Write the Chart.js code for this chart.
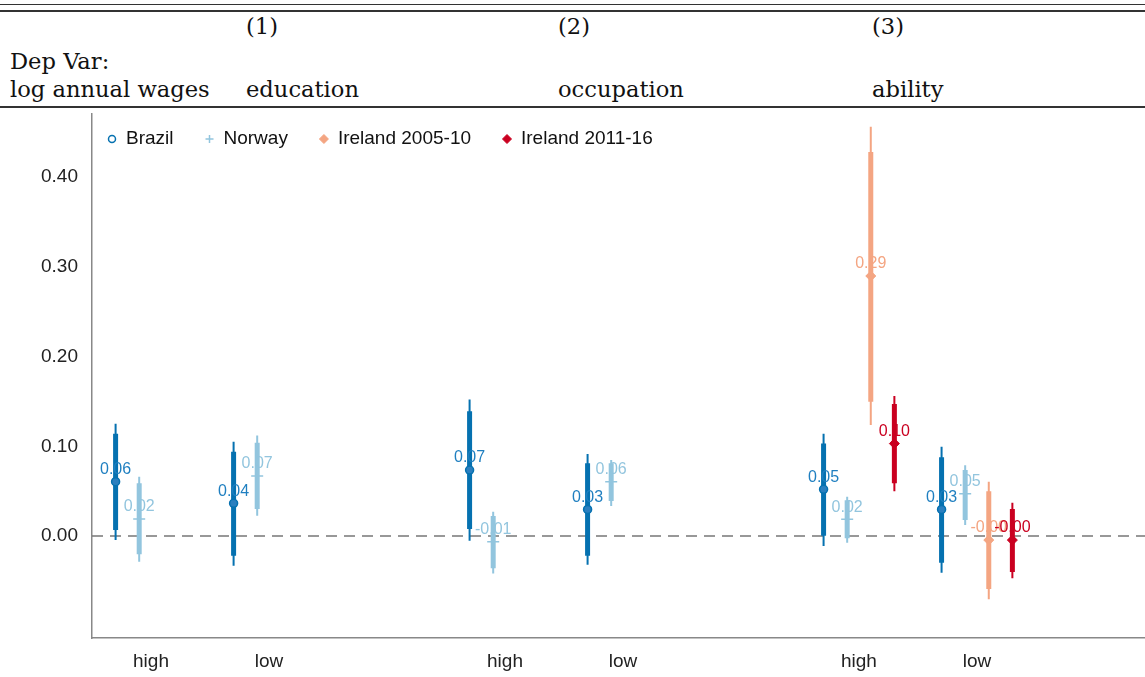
<!DOCTYPE html>
<html>
<head>
<meta charset="utf-8">
<script src="https://cdn.jsdelivr.net/npm/chart.js@4.4.0/dist/chart.umd.min.js"></script>
<style>
  html, body { margin: 0; padding: 0; background: #fff; }
  body { width: 1145px; height: 677px; position: relative; overflow: hidden; }
  .rule { position: absolute; left: 0; width: 1145px; background: #333; }
  .hd { position: absolute; font-family: "DejaVu Serif", serif; font-size: 22.6px; line-height: 21px; color: #111; white-space: nowrap; }
  #wrap { position: absolute; left: 0; top: 108px; width: 1145px; height: 569px; }
</style>
</head>
<body>
<div class="rule" style="top:4px;height:1px"></div>
<div class="rule" style="top:10px;height:2px"></div>
<div class="rule" style="top:106px;height:1.5px"></div>
<div class="hd" style="left:10px;top:51px">Dep Var:</div>
<div class="hd" style="left:10px;top:79px">log annual wages</div>
<div id="cols"></div>
<div id="wrap"><canvas id="coefChart" width="1145" height="569"></canvas></div>
<script>
// table header
const colNums = ['(1)', '(2)', '(3)'];
const depVars = ['education', 'occupation', 'ability'];

// categories on the x axis (two per column)
const categories = ['high', 'low', 'high', 'low', 'high', 'low'];
const yTicks = [0, 0.1, 0.2, 0.3, 0.4];
const seriesNames = ['Brazil', 'Norway', 'Ireland 2005-10', 'Ireland 2011-16'];

// point estimates, 90% band (thick) and 95% band (thin)
const brazilCoef = [0.0605, 0.0364, 0.0735, 0.0297, 0.052, 0.0297];
const brazilLo90 = [0.0067, -0.022, 0.0078, -0.022, 0.0003, -0.0297];
const brazilHi90 = [0.114, 0.094, 0.139, 0.081, 0.103, 0.0877];
const brazilLo95 = [-0.0045, -0.033, -0.0052, -0.032, -0.011, -0.0409];
const brazilHi95 = [0.125, 0.105, 0.152, 0.0914, 0.114, 0.0995];

const norwayCoef = [0.019, 0.067, -0.0063, 0.0605, 0.0186, 0.047];
const norwayLo90 = [-0.0204, 0.030, -0.036, 0.039, -0.0026, 0.0178];
const norwayHi90 = [0.0587, 0.104, 0.0223, 0.081, 0.040, 0.0735];
const norwayLo95 = [-0.0286, 0.0226, -0.0416, 0.0334, -0.0074, 0.0123];
const norwayHi95 = [0.066, 0.112, 0.027, 0.0847, 0.0438, 0.079];

const ire05Coef = [null, null, null, null, 0.2897, -0.0045];
const ire05Lo90 = [null, null, null, null, 0.1497, -0.059];
const ire05Hi90 = [null, null, null, null, 0.428, 0.050];
const ire05Lo95 = [null, null, null, null, 0.1237, -0.0705];
const ire05Hi95 = [null, null, null, null, 0.456, 0.0605];

const ire11Coef = [null, null, null, null, 0.103, -0.0045];
const ire11Lo90 = [null, null, null, null, 0.0587, -0.040];
const ire11Hi90 = [null, null, null, null, 0.147, 0.030];
const ire11Lo95 = [null, null, null, null, 0.050, -0.047];
const ire11Hi95 = [null, null, null, null, 0.156, 0.037];

// header columns
const colLeft = [246, 558, 872];
colNums.forEach((t, i) => {
    document.getElementById('cols').insertAdjacentHTML('beforeend',
        '<div class="hd" style="left:' + colLeft[i] + 'px;top:16px">' + t + '</div>' +
        '<div class="hd" style="left:' + colLeft[i] + 'px;top:79px">' + depVars[i] + '</div>');
});

// styles per series (legFill: marker fill in the legend)
const series = [
    { name: seriesNames[0], coef: brazilCoef, lo90: brazilLo90, hi90: brazilHi90, lo95: brazilLo95, hi95: brazilHi95,
      color: '#0571b0', labelColor: '#1f7fc0', style: 'circle', radius: 4, legR: 3.5,
      fill: '#2a7fbf', legFill: 'rgba(255,255,255,0)', bw: 1.5 },
    { name: seriesNames[1], coef: norwayCoef, lo90: norwayLo90, hi90: norwayHi90, lo95: norwayLo95, hi95: norwayHi95,
      color: '#92c5de', labelColor: '#92c5de', style: 'cross', radius: 6, legR: 4,
      fill: '#92c5de', legFill: '#92c5de', bw: 1.5 },
    { name: seriesNames[2], coef: ire05Coef, lo90: ire05Lo90, hi90: ire05Hi90, lo95: ire05Lo95, hi95: ire05Hi95,
      color: '#f4a582', labelColor: '#f4a582', style: 'rectRot', radius: 5, legR: 4.5,
      fill: '#f4a582', legFill: '#f4a582', bw: 1 },
    { name: seriesNames[3], coef: ire11Coef, lo90: ire11Lo90, hi90: ire11Hi90, lo95: ire11Lo95, hi95: ire11Hi95,
      color: '#ca0020', labelColor: '#ca0020', style: 'rectRot', radius: 5, legR: 4.5,
      fill: '#ca0020', legFill: '#ca0020', bw: 1 }
];
const offsets = [-0.3, -0.1, 0.1, 0.3];

const xMin = -0.5, xMax = 8.424;
const yMin = -0.1136, yMax = 0.4702;

const catX = i => Math.floor(i / 2) * 3 + (i % 2);

function bandData(lo, hi, off) {
    const out = [];
    lo.forEach((v, i) => {
        if (v === null) return;
        const x = catX(i) + off;
        out.push({ x: x, y: v }, { x: x, y: hi[i] }, { x: x, y: null });
    });
    return out;
}

function pointData(coef, off) {
    const out = [];
    coef.forEach((v, i) => { if (v !== null) out.push({ x: catX(i) + off, y: v }); });
    return out;
}

const datasets = [{
    label: 'zero',
    data: [{ x: xMin, y: 0 }, { x: xMax, y: 0 }],
    borderColor: '#777',
    borderWidth: 1.5,
    borderDash: [11, 7],
    pointRadius: 0,
    order: 100
}];

series.forEach((s, k) => {
    const base = (3 - k) * 10;
    datasets.push({
        label: s.name,
        isPoint: true,
        labelColor: s.labelColor,
        data: pointData(s.coef, offsets[k]),
        showLine: false,
        pointStyle: s.style,
        pointRadius: s.radius,
        pointBackgroundColor: s.fill,
        pointBorderColor: s.color,
        pointBorderWidth: s.bw,
        order: base + 1
    });
    datasets.push({
        label: s.name + ' 90',
        data: bandData(s.lo90, s.hi90, offsets[k]),
        borderColor: s.color,
        borderWidth: 5,
        borderCapStyle: 'butt',
        pointRadius: 0,
        spanGaps: false,
        order: base + 2
    });
    datasets.push({
        label: s.name + ' 95',
        data: bandData(s.lo95, s.hi95, offsets[k]),
        borderColor: s.color,
        borderWidth: 2,
        borderCapStyle: 'butt',
        pointRadius: 0,
        spanGaps: false,
        order: base + 3
    });
});

const labelFont = '16px "Liberation Sans", Arial, sans-serif';
const font = { family: '"Liberation Sans", Arial, sans-serif', size: 19 };

// value labels drawn right after each series' points
const valueLabels = {
    id: 'valueLabels',
    afterDatasetDraw(chart, args) {
        const ds = chart.data.datasets[args.index];
        if (!ds.isPoint) return;
        const ctx = chart.ctx;
        const xs = chart.scales.x, ys = chart.scales.y;
        ctx.save();
        ctx.font = labelFont;
        ctx.fillStyle = ds.labelColor;
        ctx.textAlign = 'center';
        ctx.textBaseline = 'middle';
        ds.data.forEach(p => {
            ctx.fillText(p.y.toFixed(2), xs.getPixelForValue(p.x), ys.getPixelForValue(p.y) - 12);
        });
        ctx.restore();
    }
};

// one-row legend in the top left corner of the plot
const rowLegend = {
    id: 'rowLegend',
    afterDraw(chart) {
        const ctx = chart.ctx, area = chart.chartArea;
        let x = area.left + 15;
        const y = area.top + 25;
        ctx.save();
        ctx.font = font.size + 'px ' + font.family;
        ctx.textBaseline = 'middle';
        series.forEach(s => {
            ctx.fillStyle = s.legFill;
            ctx.strokeStyle = s.color;
            ctx.lineWidth = s.bw;
            Chart.helpers.drawPoint(ctx, { pointStyle: s.style, radius: s.legR, borderWidth: s.bw }, x + 5, y);
            ctx.fillStyle = '#111';
            ctx.fillText(s.name, x + 19, y);
            x += 19 + ctx.measureText(s.name).width + 31;
        });
        ctx.restore();
    }
};

// no extra room around the plot for tick labels
const noPad = scale => {
    scale.paddingTop = 0; scale.paddingBottom = 0;
    scale.paddingLeft = 0; scale.paddingRight = 0;
};

const config = {
    type: 'line',
    data: { datasets: datasets },
    options: {
        responsive: false,
        animation: false,
        layout: { autoPadding: false, padding: { top: 6, right: 0, left: 0, bottom: 0 } },
        scales: {
            x: {
                type: 'linear',
                min: xMin,
                max: xMax,
                grid: { display: false, drawTicks: false },
                border: { display: true, color: '#888', width: 1.5 },
                afterBuildTicks: scale => { scale.ticks = categories.map((c, i) => ({ value: catX(i) })); },
                afterFit: scale => { scale.height = 39; noPad(scale); },
                ticks: {
                    autoSkip: false,
                    maxRotation: 0,
                    padding: 12,
                    color: '#222',
                    font: font,
                    callback: (v, i) => categories[i]
                }
            },
            y: {
                min: yMin,
                max: yMax,
                grid: { display: false, drawTicks: false },
                border: { display: true, color: '#888', width: 1.5 },
                afterBuildTicks: scale => { scale.ticks = yTicks.map(v => ({ value: v })); },
                afterFit: scale => { scale.width = 92; noPad(scale); },
                ticks: {
                    padding: 14,
                    color: '#222',
                    font: font,
                    callback: v => v.toFixed(2)
                }
            }
        },
        plugins: {
            tooltip: { enabled: false },
            legend: { display: false }
        }
    },
    plugins: [valueLabels, rowLegend]
};

const ctx = document.getElementById('coefChart').getContext('2d');
const coefChart = new Chart(ctx, config);
</script>
</body>
</html>
